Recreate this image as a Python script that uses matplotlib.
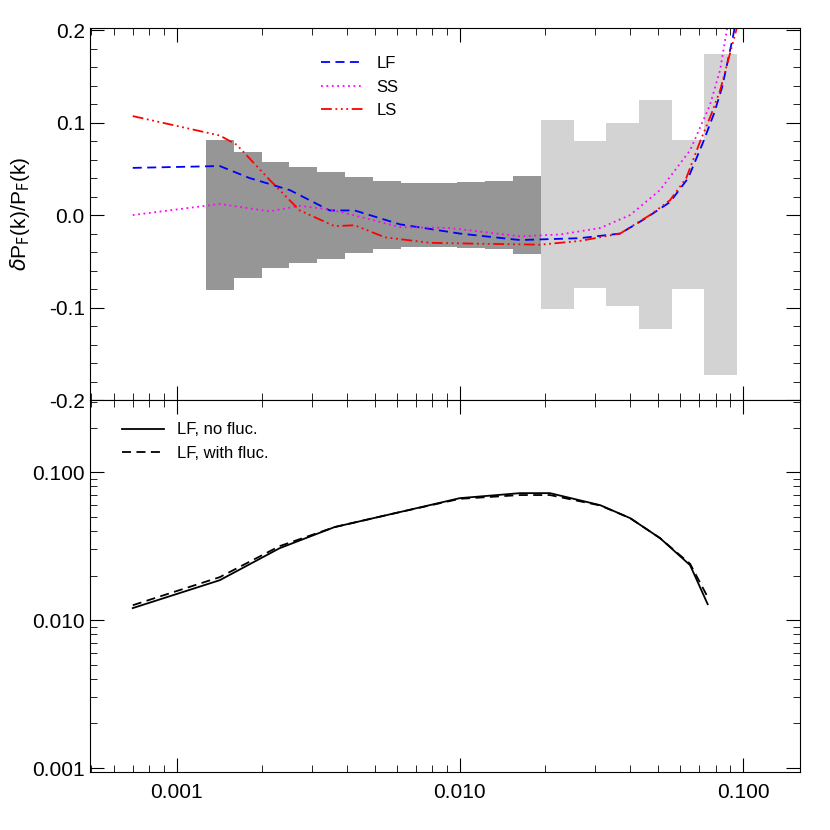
import numpy as np
import matplotlib
matplotlib.use("Agg")
import matplotlib.pyplot as plt
from matplotlib.ticker import FixedLocator, FixedFormatter, NullFormatter

plt.rcParams['font.family'] = ['Liberation Sans', 'DejaVu Sans']

# error bands
dark_edges_log = np.linspace(-2.8975, -1.714, 13)
dark_hw = [0.081, 0.068, 0.057, 0.052, 0.047, 0.041, 0.037, 0.035, 0.035, 0.036, 0.037, 0.042]
light_edges_log = np.linspace(-1.714, -1.021, 7)
light_up = [0.103, 0.080, 0.100, 0.124, 0.081, 0.174]
light_lo = [0.102, 0.079, 0.098, 0.123, 0.080, 0.173]

k_lf = [0.0007, 0.00142, 0.00181, 0.00251, 0.00347, 0.00425, 0.00614, 0.01, 0.0163, 0.0265, 0.0368, 0.045, 0.0552, 0.0640, 0.0721, 0.0790, 0.0843, 0.092, 0.097]
lf = [0.051, 0.053, 0.040, 0.027, 0.005, 0.005, -0.010, -0.020, -0.027, -0.025, -0.020, -0.004, 0.014, 0.040, 0.078, 0.110, 0.138, 0.192, 0.23]
k_ss = [0.0007, 0.00142, 0.00213, 0.00272, 0.00347, 0.00408, 0.00614, 0.00922, 0.0163, 0.0226, 0.0313, 0.0399, 0.0509, 0.065, 0.0764, 0.083, 0.0876, 0.092]
ss = [0.0, 0.012, 0.004, 0.010, 0.006, 0.001, -0.013, -0.014, -0.023, -0.021, -0.014, 0.0, 0.027, 0.070, 0.119, 0.157, 0.200, 0.24]
k_ls = [0.0007, 0.00142, 0.00163, 0.00213, 0.00272, 0.00361, 0.00425, 0.00543, 0.00783, 0.0118, 0.0192, 0.0265, 0.0368, 0.0469, 0.0552, 0.0630, 0.0704, 0.0770, 0.083, 0.095, 0.10]
ls = [0.107, 0.086, 0.076, 0.038, 0.005, -0.012, -0.011, -0.024, -0.030, -0.031, -0.032, -0.028, -0.020, 0.0, 0.016, 0.040, 0.079, 0.108, 0.135, 0.202, 0.24]

k_b = [0.0007, 0.00142, 0.00231, 0.00361, 0.00614, 0.01, 0.0163, 0.0208, 0.0313, 0.0399, 0.0509, 0.065, 0.075]
nofluc = [0.01205, 0.0186, 0.0306, 0.0425, 0.0537, 0.0667, 0.0721, 0.0721, 0.0598, 0.0489, 0.0358, 0.0235, 0.0128]
withfluc = [0.0126, 0.0195, 0.0316, 0.0425, 0.0537, 0.0660, 0.0700, 0.0700, 0.0595, 0.0489, 0.0358, 0.0240, 0.0143]

fig = plt.figure(figsize=(8.3, 8.3), dpi=100)
ax1 = fig.add_axes([0.108, 0.518, 0.856, 0.448])
ax2 = fig.add_axes([0.108, 0.0699, 0.856, 0.4481])

for i in range(12):
    a, b = 10**dark_edges_log[i], 10**dark_edges_log[i+1]
    ax1.fill_between([a, b], [-dark_hw[i]]*2, [dark_hw[i]]*2, color='#969696', lw=0)
for i in range(6):
    a, b = 10**light_edges_log[i], 10**light_edges_log[i+1]
    ax1.fill_between([a, b], [-light_lo[i]]*2, [light_up[i]]*2, color='#d3d3d3', lw=0)

ax1.plot(k_lf, lf, color='blue', ls=(0, (5, 3)), lw=1.3, label='LF')
ax1.plot(k_ss, ss, color='magenta', ls=(0, (1, 2)), lw=1.3, label='SS')
ax1.plot(k_ls, ls, color='red', ls=(0, (6, 2, 1, 2, 1, 2, 1, 2)), lw=1.3, label='LS')
ax1.legend(loc='upper left', bbox_to_anchor=(0.305, 0.965), frameon=False, fontsize=12, handlelength=2.5)

ax2.plot(k_b, nofluc, color='black', lw=1.3, label='LF, no fluc.')
ax2.plot(k_b, withfluc, color='black', ls=(0, (5, 3)), lw=1.3, label='LF, with fluc.')
ax2.legend(loc='upper left', bbox_to_anchor=(0.025, 0.98), frameon=False, fontsize=12, handlelength=2.5)

for ax in (ax1, ax2):
    ax.set_xscale('log')
    ax.set_xlim(0.000493, 0.159)
    ax.tick_params(which='both', direction='in', top=True, right=True, labelsize=15)
    ax.tick_params(which='major', length=10)
    ax.tick_params(which='minor', length=5)

ax1.set_ylim(-0.2, 0.202)
ax1.set_yticks([-0.2, -0.1, 0.0, 0.1, 0.2])
ax1.set_yticklabels(['-0.2', '-0.1', '0.0', '0.1', '0.2'])
ax1.set_yticks(np.arange(-0.2, 0.201, 0.02), minor=True)
ax1.xaxis.set_major_formatter(NullFormatter())
ax1.xaxis.set_minor_formatter(NullFormatter())
ax1.set_ylabel(r'$\delta$P$_\mathrm{F}$(k)/P$_\mathrm{F}$(k)', fontsize=15, labelpad=12)

ax2.set_yscale('log')
ax2.set_ylim(0.00094, 0.307)
ax2.yaxis.set_major_locator(FixedLocator([0.001, 0.01, 0.1]))
ax2.yaxis.set_major_formatter(FixedFormatter(['0.001', '0.010', '0.100']))
ax2.yaxis.set_minor_formatter(NullFormatter())
ax2.xaxis.set_major_locator(FixedLocator([0.001, 0.01, 0.1]))
ax2.xaxis.set_major_formatter(FixedFormatter(['0.001', '0.010', '0.100']))
ax2.xaxis.set_minor_formatter(NullFormatter())
ax2.tick_params(axis='x', pad=8)

fig.savefig('out.png', dpi=100)
